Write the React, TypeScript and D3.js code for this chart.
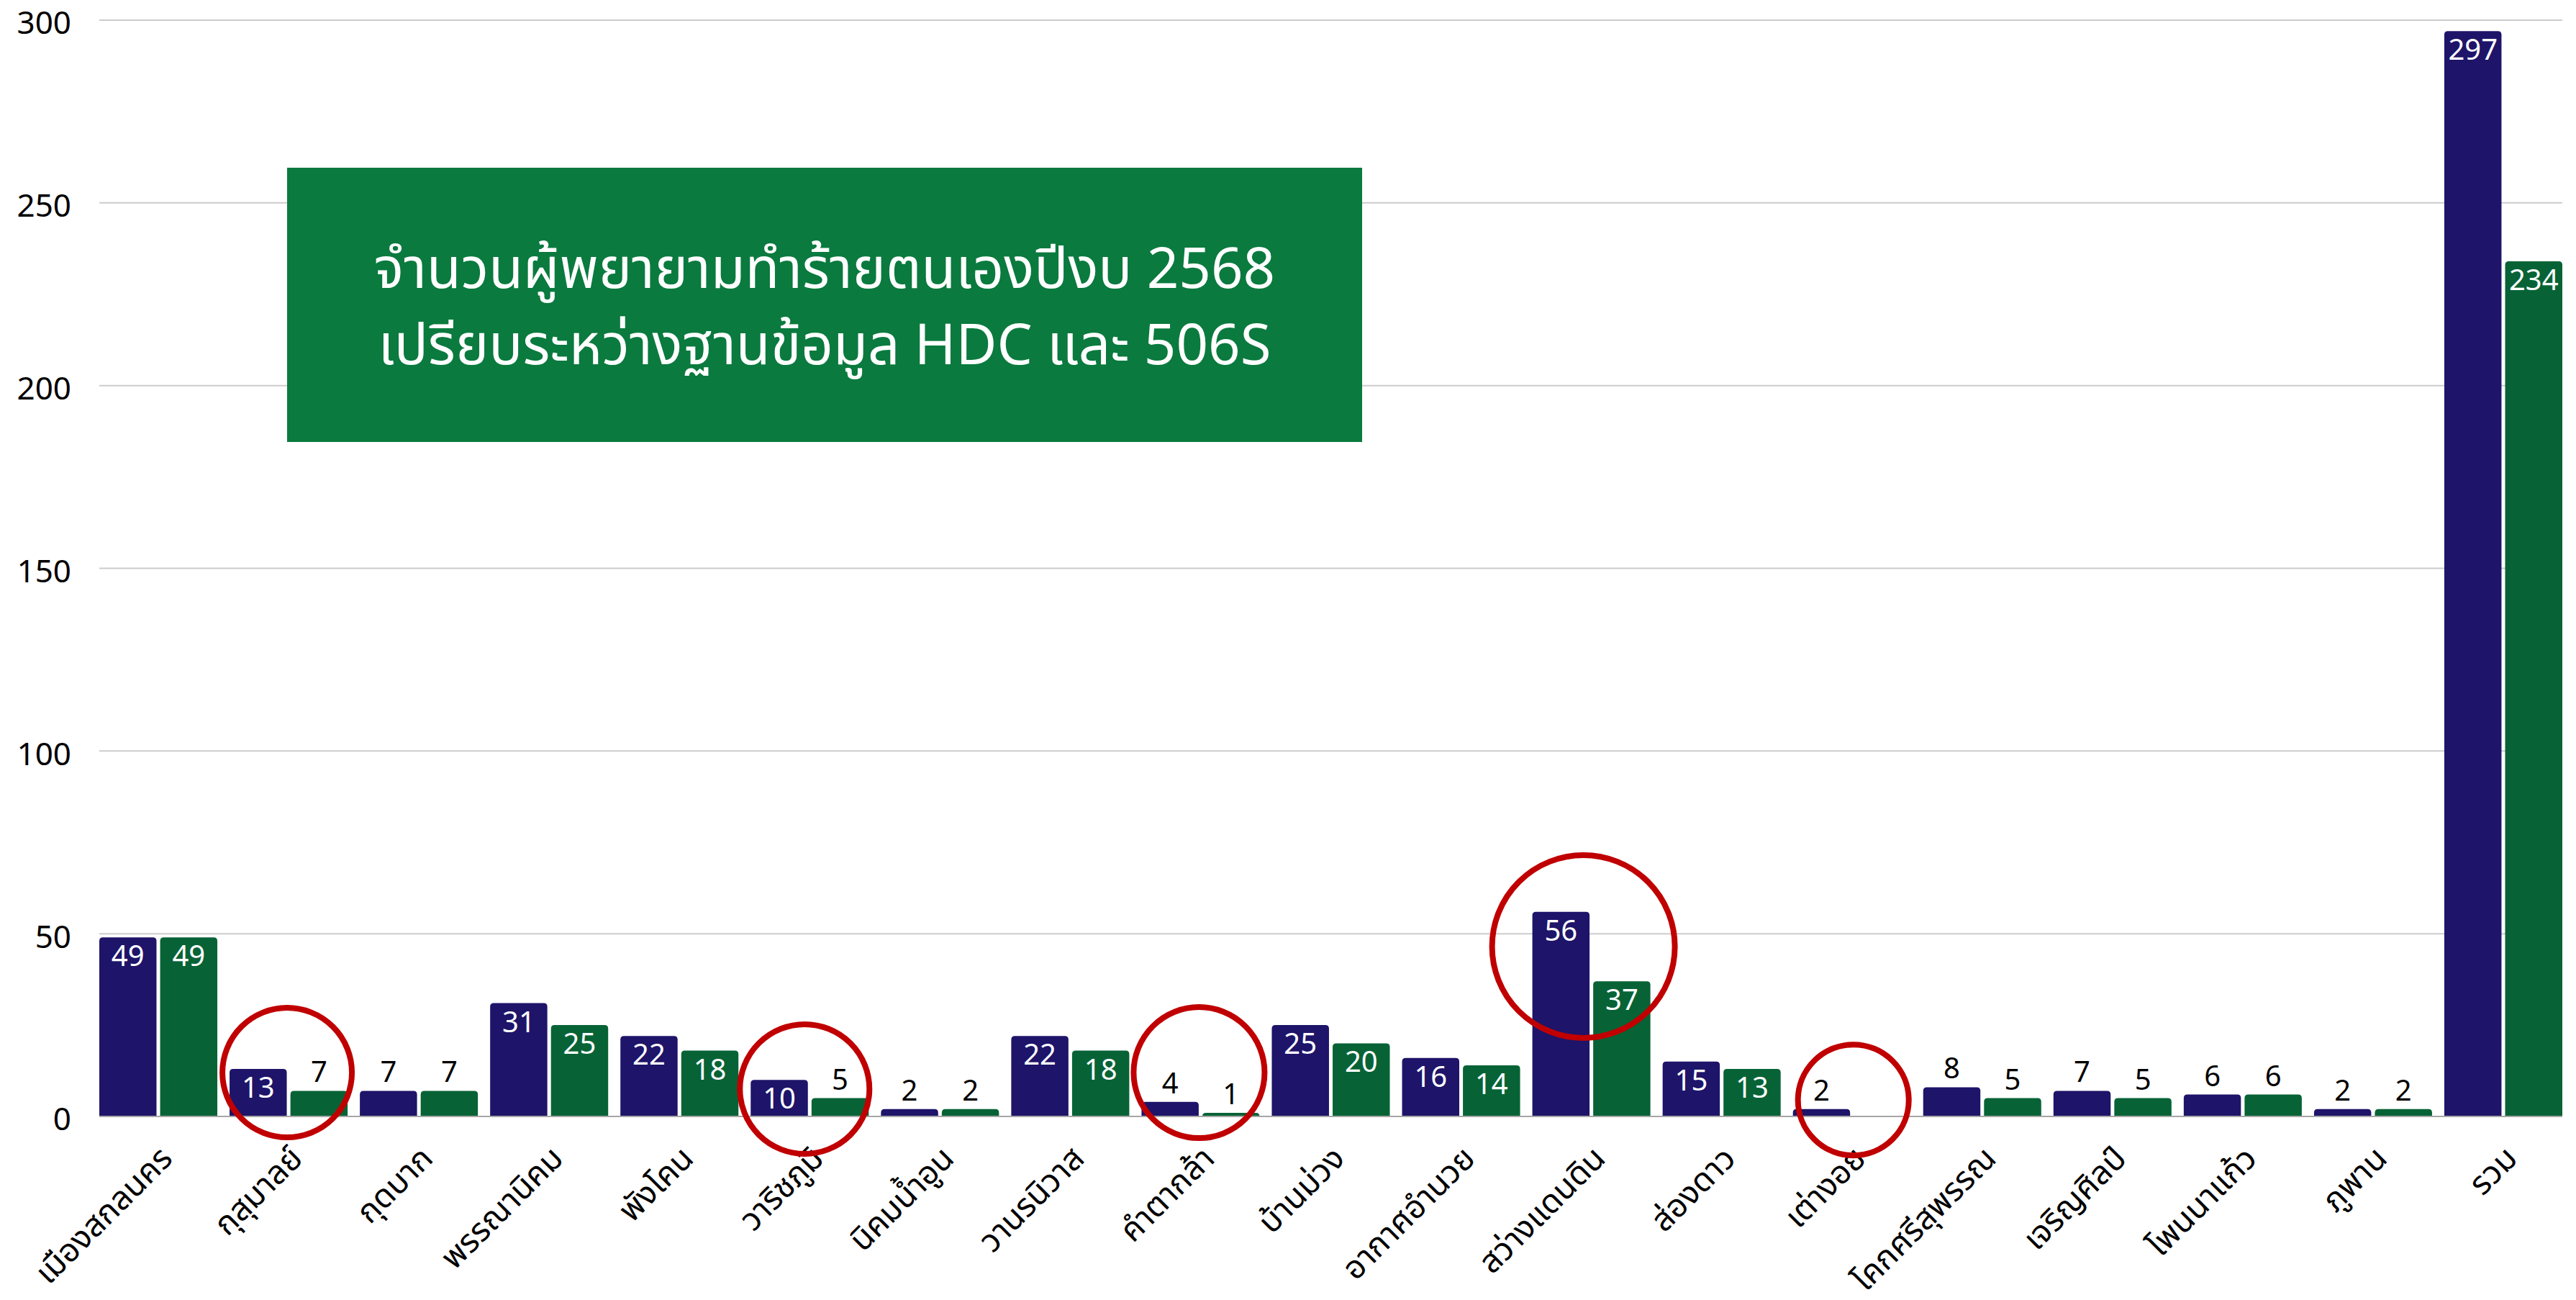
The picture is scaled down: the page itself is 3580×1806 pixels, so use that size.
import React, { useEffect, useRef } from 'react';
import * as d3 from 'd3';

// districts (x axis), last one is the total
const districts = [
    'เมืองสกลนคร', 'กุสุมาลย์', 'กุดบาก', 'พรรณานิคม', 'พังโคน', 'วาริชภูมิ',
    'นิคมน้ำอูน', 'วานรนิวาส', 'คำตากล้า', 'บ้านม่วง', 'อากาศอำนวย', 'สว่างแดนดิน',
    'ส่องดาว', 'เต่างอย', 'โคกศรีสุพรรณ', 'เจริญศิลป์', 'โพนนาแก้ว', 'ภูพาน', 'รวม'
];
const hdcValues = [49, 13, 7, 31, 22, 10, 2, 22, 4, 25, 16, 56, 15, 2, 8, 7, 6, 2, 297];
const s506Values = [49, 7, 7, 25, 18, 5, 2, 18, 1, 20, 14, 37, 13, 0, 5, 5, 6, 2, 234];
const yTicks = [0, 50, 100, 150, 200, 250, 300];
const titleLines = ['จำนวนผู้พยายามทำร้ายตนเองปีงบ 2568', 'เปรียบระหว่างฐานข้อมูล HDC และ 506S'];
// red circles drawn over the chart: district, value level of the centre, radius in px
const circled = [
    { name: 'กุสุมาลย์', level: 12, r: 90, dx: -2 },
    { name: 'วาริชภูมิ', level: 7.5, r: 90, dx: -7 },
    { name: 'คำตากล้า', level: 12, r: 91, dx: -2 },
    { name: 'สว่างแดนดิน', level: 46.5, r: 127, dx: -11 },
    { name: 'เต่างอย', level: 4.5, r: 77, dx: 2 },
];

const W = 3580, H = 1806;
const FONT = '"Noto Sans", "Noto Sans Thai", sans-serif';

function App() {
    const chart = useRef(null);

    useEffect(function () {
        if (!chart.current) return;
        const svg = d3.select(chart.current);
        svg.selectAll('*').remove();

        const left = 138, right = 3561, top = 28, bottom = 1551;

        const x = d3.scaleBand().domain(districts).range([left, right]).paddingInner(0.094).paddingOuter(0);
        const xs = d3.scaleBand().domain(['hdc', 's506']).range([0, x.bandwidth()]).paddingInner(0.06);
        const y = d3.scaleLinear().domain([0, 300]).range([bottom, top]);

        // grid
        svg.append('g').selectAll('line').data(yTicks.filter(t => t > 0)).join('line')
            .attr('x1', left).attr('x2', right)
            .attr('y1', d => y(d)).attr('y2', d => y(d))
            .attr('stroke', '#cccccc').attr('stroke-width', 2);

        // y labels (nudged a bit so the top one stays inside the page)
        svg.append('g').selectAll('text').data(yTicks).join('text')
            .attr('x', 99).attr('y', d => y(d))
            .attr('dy', '0.44em')
            .attr('text-anchor', 'end')
            .style('font-family', FONT).style('font-size', '44px').attr('fill', '#000')
            .text(d => d);

        const rows = districts.map((name, i) => ({ name, hdc: hdcValues[i], s506: s506Values[i] }));

        // rounded top corners only
        function barPath(x0, w, v) {
            const y0 = y(v), y1 = y(0);
            const r = Math.min(5, (y1 - y0));
            return 'M' + x0 + ',' + y1 + 'V' + (y0 + r) + 'Q' + x0 + ',' + y0 + ' ' + (x0 + r) + ',' + y0 +
                'H' + (x0 + w - r) + 'Q' + (x0 + w) + ',' + y0 + ' ' + (x0 + w) + ',' + (y0 + r) + 'V' + y1 + 'Z';
        }

        const series = [
            { key: 'hdc', color: '#1e1469' },
            { key: 's506', color: '#076336' },
        ];

        series.forEach(function (s) {
            const g = svg.append('g');
            const items = rows.filter(d => d[s.key] > 0);
            g.selectAll('path').data(items).join('path')
                .attr('d', d => barPath(x(d.name) + xs(s.key), xs.bandwidth(), d[s.key]))
                .attr('fill', s.color);
            g.selectAll('text').data(items).join('text')
                .attr('x', d => x(d.name) + xs(s.key) + xs.bandwidth() / 2)
                .attr('y', d => d[s.key] >= 10 ? y(d[s.key]) + 40 : y(d[s.key]) - 12)
                .attr('text-anchor', 'middle')
                .attr('fill', d => d[s.key] >= 10 ? '#ffffff' : '#000000')
                .style('font-family', FONT).style('font-size', '40px')
                .text(d => d[s.key]);
        });

        // baseline
        svg.append('line')
            .attr('x1', left).attr('x2', right).attr('y1', y(0)).attr('y2', y(0))
            .attr('stroke', '#a6a6a6').attr('stroke-width', 2);

        // x labels, rotated
        svg.append('g').selectAll('text').data(districts).join('text')
            .attr('transform', d => 'translate(' + (x(d) + x.bandwidth() / 2 + 22) + ',' + 1612 + ') rotate(-45)')
            .attr('text-anchor', 'end')
            .style('font-family', FONT).style('font-size', '45px').attr('fill', '#000')
            .text(d => d);

        // red circles
        svg.append('g').selectAll('circle').data(circled).join('circle')
            .attr('cx', d => x(d.name) + x.bandwidth() / 2 + d.dx)
            .attr('cy', d => y(d.level))
            .attr('r', d => d.r)
            .attr('fill', 'none').attr('stroke', '#c00000').attr('stroke-width', 8);

        // title box
        const box = svg.append('g');
        box.append('rect')
            .attr('x', 399).attr('y', 233).attr('width', 1494).attr('height', 381)
            .attr('fill', '#0a7a3e');
        box.selectAll('text').data(titleLines).join('text')
            .attr('x', 1146).attr('y', (d, i) => 400 + i * 106)
            .attr('text-anchor', 'middle')
            .style('font-family', FONT).style('font-size', '78px').attr('fill', '#ffffff')
            .text(d => d);
    });

    return (
        <svg ref={chart} width={W} height={H}
            style={{ position: 'absolute', left: 0, top: 0, background: '#ffffff' }}></svg>
    );
}

export default App;
